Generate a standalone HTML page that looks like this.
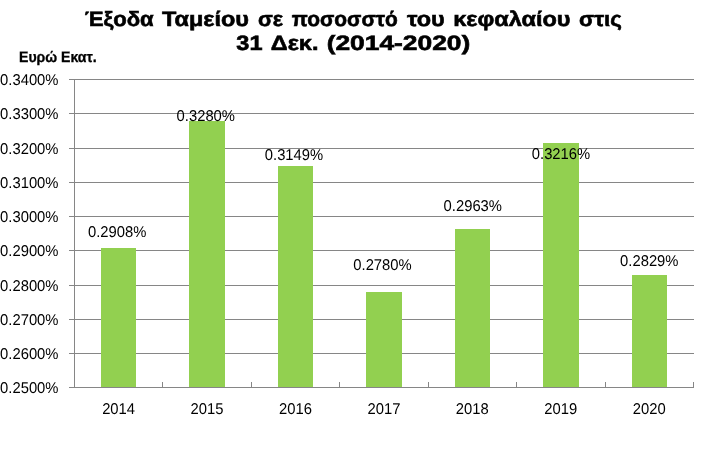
<!DOCTYPE html>
<html>
<head>
<meta charset="utf-8">
<style>
html,body{margin:0;padding:0;background:#fff;}
body{width:707px;height:469px;overflow:hidden;}
svg{display:block;will-change:transform;}
text{font-family:"Liberation Sans",sans-serif;text-rendering:geometricPrecision;}
</style>
</head>
<body>
<svg width="707" height="469" viewBox="0 0 707 469">
<rect x="0" y="0" width="707" height="469" fill="#fff"/>
<!-- gridlines -->
<g fill="#868686">
<rect x="69" y="79" width="625" height="1"/>
<rect x="69" y="113" width="625" height="1"/>
<rect x="69" y="148" width="625" height="1"/>
<rect x="69" y="182" width="625" height="1"/>
<rect x="69" y="216" width="625" height="1"/>
<rect x="69" y="250" width="625" height="1"/>
<rect x="69" y="285" width="625" height="1"/>
<rect x="69" y="319" width="625" height="1"/>
<rect x="69" y="353" width="625" height="1"/>
</g>
<!-- bars -->
<g fill="#92d050">
<rect x="101" y="248" width="35" height="139"/>
<rect x="189" y="121" width="36" height="266"/>
<rect x="278" y="166" width="35" height="221"/>
<rect x="366" y="292" width="36" height="95"/>
<rect x="455" y="229" width="35" height="158"/>
<rect x="543" y="143" width="36" height="244"/>
<rect x="632" y="275" width="35" height="112"/>
</g>
<!-- axes -->
<g fill="#868686">
<rect x="74" y="79" width="1" height="309"/>
<rect x="69" y="387" width="625" height="1"/>
<rect x="162" y="382" width="1" height="5"/>
<rect x="251" y="382" width="1" height="5"/>
<rect x="339" y="382" width="1" height="5"/>
<rect x="428" y="382" width="1" height="5"/>
<rect x="516" y="382" width="1" height="5"/>
<rect x="605" y="382" width="1" height="5"/>
<rect x="693" y="382" width="1" height="5"/>
</g>
<!-- y labels -->
<g font-size="15.6" fill="#000" text-anchor="end">
<text x="58.5" y="85" textLength="58.4" lengthAdjust="spacingAndGlyphs">0.3400%</text>
<text x="58.5" y="119" textLength="58.4" lengthAdjust="spacingAndGlyphs">0.3300%</text>
<text x="58.5" y="154" textLength="58.4" lengthAdjust="spacingAndGlyphs">0.3200%</text>
<text x="58.5" y="188" textLength="58.4" lengthAdjust="spacingAndGlyphs">0.3100%</text>
<text x="58.5" y="222" textLength="58.4" lengthAdjust="spacingAndGlyphs">0.3000%</text>
<text x="58.5" y="256" textLength="58.4" lengthAdjust="spacingAndGlyphs">0.2900%</text>
<text x="58.5" y="291" textLength="58.4" lengthAdjust="spacingAndGlyphs">0.2800%</text>
<text x="58.5" y="325" textLength="58.4" lengthAdjust="spacingAndGlyphs">0.2700%</text>
<text x="58.5" y="359" textLength="58.4" lengthAdjust="spacingAndGlyphs">0.2600%</text>
<text x="58.5" y="393" textLength="58.4" lengthAdjust="spacingAndGlyphs">0.2500%</text>
</g>
<!-- x labels -->
<g font-size="15.6" fill="#000" text-anchor="middle">
<text x="118.6" y="414" textLength="32.9" lengthAdjust="spacingAndGlyphs">2014</text>
<text x="207" y="414" textLength="32.9" lengthAdjust="spacingAndGlyphs">2015</text>
<text x="295.5" y="414" textLength="32.9" lengthAdjust="spacingAndGlyphs">2016</text>
<text x="384" y="414" textLength="32.9" lengthAdjust="spacingAndGlyphs">2017</text>
<text x="472.3" y="414" textLength="32.9" lengthAdjust="spacingAndGlyphs">2018</text>
<text x="560.7" y="414" textLength="32.9" lengthAdjust="spacingAndGlyphs">2019</text>
<text x="649.2" y="414" textLength="32.9" lengthAdjust="spacingAndGlyphs">2020</text>
</g>
<!-- data labels -->
<g font-size="15.6" fill="#000" text-anchor="middle">
<text x="117.2" y="237" textLength="58.4" lengthAdjust="spacingAndGlyphs">0.2908%</text>
<text x="205.8" y="121" textLength="58.4" lengthAdjust="spacingAndGlyphs">0.3280%</text>
<text x="294" y="160" textLength="58.4" lengthAdjust="spacingAndGlyphs">0.3149%</text>
<text x="382.5" y="270" textLength="58.4" lengthAdjust="spacingAndGlyphs">0.2780%</text>
<text x="472.8" y="211" textLength="58.4" lengthAdjust="spacingAndGlyphs">0.2963%</text>
<text x="561" y="159" textLength="58.4" lengthAdjust="spacingAndGlyphs">0.3216%</text>
<text x="649.3" y="266" textLength="58.4" lengthAdjust="spacingAndGlyphs">0.2829%</text>
</g>
<!-- axis title -->
<text x="19" y="62" font-size="15" font-weight="bold" fill="#000" stroke="#000" stroke-width="0.3" textLength="77.7" lengthAdjust="spacingAndGlyphs">Ευρώ Εκατ.</text>
<!-- chart title -->
<g font-size="20.8" font-weight="bold" fill="#000" stroke="#000" stroke-width="0.6">
<text x="84.74" y="25.8" textLength="68.99" lengthAdjust="spacingAndGlyphs">Έξοδα</text>
<text x="161.94" y="25.8" textLength="87.05" lengthAdjust="spacingAndGlyphs">Ταμείου</text>
<text x="257.91" y="25.8" textLength="25.10" lengthAdjust="spacingAndGlyphs">σε</text>
<text x="291.82" y="25.8" textLength="106.04" lengthAdjust="spacingAndGlyphs">ποσοσστό</text>
<text x="406.96" y="25.8" textLength="37.80" lengthAdjust="spacingAndGlyphs">του</text>
<text x="453.16" y="25.8" textLength="117.38" lengthAdjust="spacingAndGlyphs">κεφαλαίου</text>
<text x="578.91" y="25.8" textLength="42.97" lengthAdjust="spacingAndGlyphs">στις</text>
<text x="236.37" y="50" textLength="26.18" lengthAdjust="spacingAndGlyphs">31</text>
<text x="270.88" y="50" textLength="47.59" lengthAdjust="spacingAndGlyphs">Δεκ.</text>
<text x="326.66" y="50" textLength="143.64" lengthAdjust="spacingAndGlyphs">(2014-2020)</text>
</g>
</svg>
</body>
</html>
